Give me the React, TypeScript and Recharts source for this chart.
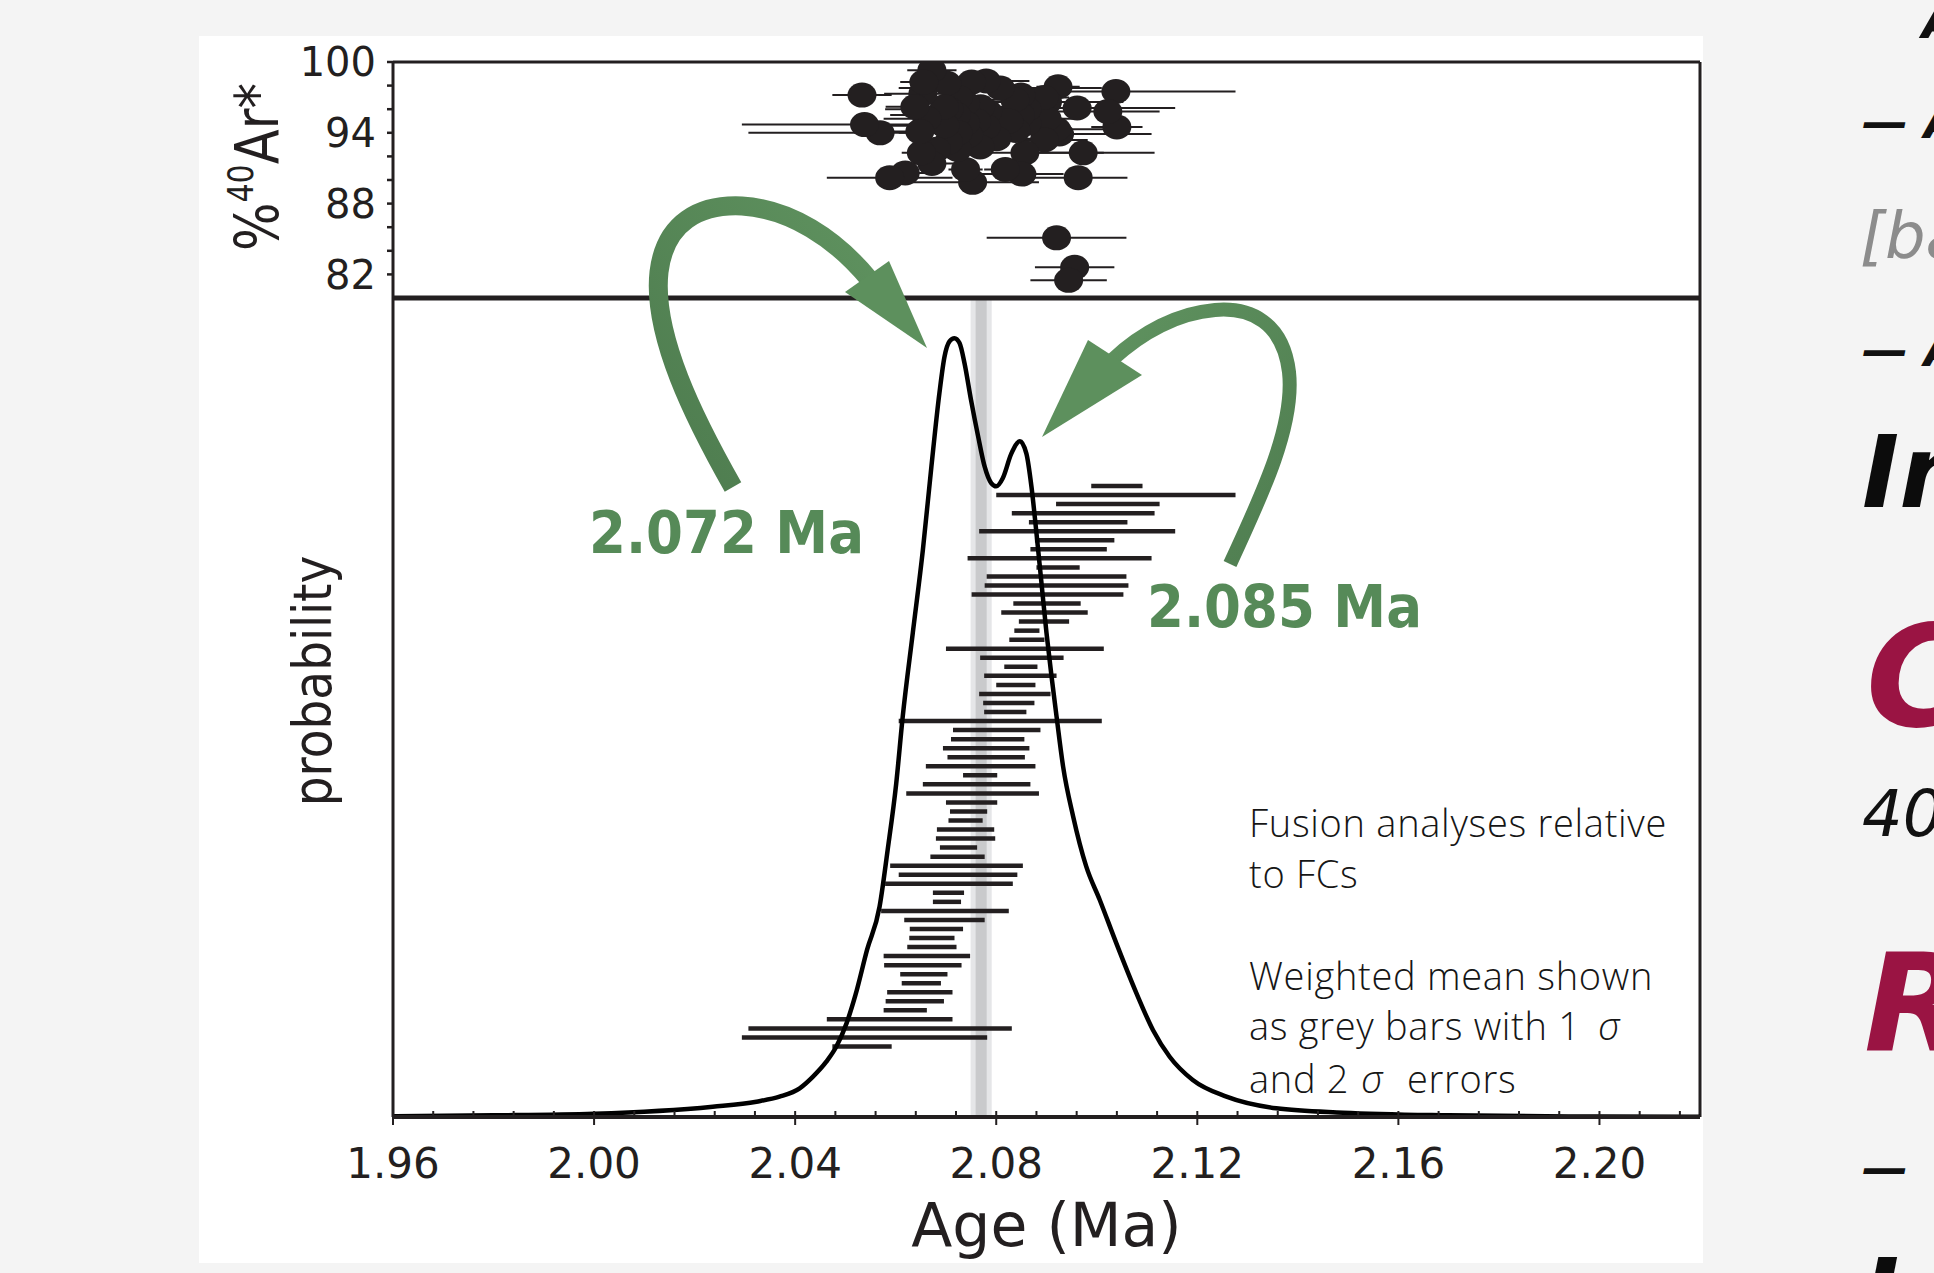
import React from "react";
import {
  ComposedChart,
  ScatterChart,
  Scatter,
  Line,
  XAxis,
  YAxis,
  ErrorBar,
  ReferenceArea,
  ReferenceLine,
} from "recharts";

const INK = "#231f20";
const GREEN = "#568a58";
const AXIS_FONT = "'DejaVu Sans', sans-serif";

// single-crystal fusion ages (Ma), ranked oldest first as in the lower panel
const ages = [
  2.104, 2.1038, 2.1022, 2.0973, 2.0963, 2.0961, 2.0956, 2.0944, 2.0926, 2.0923,
  2.092, 2.092, 2.0902, 2.0901, 2.0896, 2.0895, 2.0861, 2.0861, 2.0857, 2.0851,
  2.0849, 2.0848, 2.0839, 2.0837, 2.0825, 2.0818, 2.0808, 2.0801, 2.0783, 2.078,
  2.078, 2.0769, 2.0768, 2.0761, 2.0753, 2.0751, 2.0745, 2.0739, 2.0739, 2.0739,
  2.0725, 2.0723, 2.0721, 2.0724, 2.0706, 2.0705, 2.0702, 2.0698, 2.0697, 2.0681,
  2.0672, 2.0672, 2.0662, 2.0654, 2.0656, 2.0651, 2.0648, 2.0638, 2.0619, 2.0588,
  2.0569, 2.0538, 2.0533,
];

// 1 sigma errors (Ma)
const ageErrors = [
  0.0051, 0.0238, 0.0103, 0.0142, 0.0098, 0.0195, 0.0079, 0.0076, 0.0183, 0.0043,
  0.0139, 0.0143, 0.0151, 0.0067, 0.0086, 0.005, 0.0025, 0.0035, 0.0157, 0.0083,
  0.0033, 0.0072, 0.0039, 0.0071, 0.0051, 0.0042, 0.0202, 0.0087, 0.0073, 0.0086,
  0.0077, 0.0109, 0.0034, 0.0107, 0.0132, 0.0051, 0.0037, 0.0034, 0.0057, 0.0059,
  0.0037, 0.0054, 0.0132, 0.0118, 0.0127, 0.0031, 0.0028, 0.0127, 0.008, 0.0053,
  0.0045, 0.0049, 0.0086, 0.0077, 0.0047, 0.0039, 0.0065, 0.0058, 0.0043, 0.0125,
  0.0262, 0.0244, 0.0059,
];

// %40Ar* for each analysis
const radiogenic = [
  94.5, 97.5, 95.8, 92.3, 90.2, 96.1, 82.6, 81.5, 93.9, 97.9,
  85.1, 94.3, 96.6, 95.2, 93.4, 97.0, 94.8, 96.0, 92.3, 90.5,
  97.2, 95.5, 94.2, 96.8, 95.0, 90.9, 97.8, 93.5, 95.8, 98.4,
  94.5, 96.2, 92.8, 95.0, 89.8, 98.3, 93.8, 90.9, 96.5, 94.8,
  97.0, 92.6, 95.5, 94.0, 96.0, 93.2, 98.2, 94.6, 96.2, 92.6,
  91.4, 99.3, 95.2, 97.3, 98.3, 92.3, 94.1, 96.2, 90.6, 90.2,
  94.0, 94.7, 97.2,
];

// probability density curve, relative units
const curveAges = [
  1.96, 1.98, 2.0, 2.0236, 2.0323, 2.0369, 2.0409, 2.0435, 2.0462, 2.0482,
  2.0502, 2.052, 2.0543, 2.0568, 2.0584, 2.0601, 2.0614, 2.0634, 2.0654, 2.0671,
  2.0687, 2.0697, 2.0707, 2.0717, 2.0727, 2.0737, 2.075, 2.0764, 2.0777, 2.079,
  2.08, 2.0813, 2.083, 2.0847, 2.086, 2.087, 2.088, 2.089, 2.09, 2.091,
  2.092, 2.0933, 2.0953, 2.0979, 2.1006, 2.1039, 2.1079, 2.1112, 2.1145, 2.1191,
  2.1258, 2.1357, 2.149, 2.17, 2.2, 2.22,
];
const curveProb = [
  0.001, 0.002, 0.004, 0.0126, 0.0187, 0.0248, 0.035, 0.049, 0.0675, 0.086,
  0.114, 0.149, 0.204, 0.257, 0.326, 0.407, 0.489, 0.591, 0.692, 0.794,
  0.884, 0.928, 0.947, 0.951, 0.945, 0.92, 0.875, 0.831, 0.794, 0.774,
  0.77, 0.78, 0.81, 0.825, 0.81, 0.77, 0.713, 0.652, 0.591, 0.538,
  0.489, 0.428, 0.367, 0.306, 0.265, 0.212, 0.151, 0.106, 0.0736, 0.0452,
  0.0248, 0.0106, 0.0052, 0.002, 0.0005, 0.0003,
];

// weighted mean and its errors (grey bars)
const weightedMean = 2.077;
const meanErr1s = 0.0011;
const meanErr2s = 0.0021;

const AGE_DOMAIN = [1.96, 2.22];
const MAJOR_TICKS = [1.96, 2.0, 2.04, 2.08, 2.12, 2.16, 2.2];
const AGE_TICKS = Array.from({ length: 33 }, (_, i) => +(1.96 + i * 0.008).toFixed(3));
const AR_TICKS = [82, 84, 86, 88, 90, 92, 94, 96, 98, 100];
const AR_LABELS = [82, 88, 94, 100];

const rows = ages.map((age, i) => ({
  age,
  err: ageErrors[i],
  ar: radiogenic[i],
  rank: ages.length - 1 - i,
}));
const curve = curveAges.map((age, i) => ({ age, p: curveProb[i] }));

function ArTick(props: any) {
  const { x, y, payload } = props;
  if (!AR_LABELS.includes(payload.value)) return null;
  return (
    <text x={x} y={y} dy="0.36em" textAnchor="end" fontFamily={AXIS_FONT} fontSize={40} fill={INK}>
      {payload.value}
    </text>
  );
}

function ArTitle() {
  return (
    <text
      transform="translate(278,167) rotate(-90) scale(1,1.2)"
      textAnchor="middle"
      fontFamily={AXIS_FONT}
      fontSize={51}
      fill={INK}
    >
      %
      <tspan fontSize={30} dy={-21}>40</tspan>
      <tspan dy={21}>Ar*</tspan>
    </text>
  );
}

function AgeTick(props: any) {
  const { x, y, payload } = props;
  const major = MAJOR_TICKS.some((m) => Math.abs(m - payload.value) < 1e-6);
  return (
    <g>
      <line x1={x} x2={x} y1={y - 6} y2={major ? y + 8 : y} stroke={INK} strokeWidth={2} />
      {major && (
        <text x={x} y={y + 61} textAnchor="middle" fontFamily={AXIS_FONT} fontSize={42} fill={INK}>
          {payload.value.toFixed(2)}
        </text>
      )}
    </g>
  );
}

function AgeTitle(props: any) {
  const { viewBox } = props;
  return (
    <text
      x={viewBox.x + viewBox.width / 2}
      y={1246}
      textAnchor="middle"
      fontFamily={AXIS_FONT}
      fontSize={60}
      fill={INK}
    >
      Age (Ma)
    </text>
  );
}

function ProbTitle() {
  return (
    <text
      transform="translate(331,681) rotate(-90) scale(1,1.12)"
      textAnchor="middle"
      fontFamily={AXIS_FONT}
      fontSize={47}
      fill={INK}
    >
      probability
    </text>
  );
}

function Overlay() {
  const note = {
    fontFamily: "'Open Sans', sans-serif",
    fontWeight: 300,
    fontSize: 38,
    letterSpacing: 0.7,
    fill: "#161616",
  };
  const side = { fontFamily: AXIS_FONT, fontStyle: "italic" as const, fontWeight: 700 };
  return (
    <svg
      width={1934}
      height={1273}
      style={{ position: "absolute", left: 0, top: 0, pointerEvents: "none" }}
    >
      <defs>
        <linearGradient id="arrowL" x1="0" y1="1" x2="1" y2="0">
          <stop offset="0" stopColor="#4d7b4e" />
          <stop offset="1" stopColor="#5f925f" />
        </linearGradient>
        <linearGradient id="arrowR" x1="1" y1="1" x2="0" y2="0">
          <stop offset="0" stopColor="#4f7d50" />
          <stop offset="1" stopColor="#5f925f" />
        </linearGradient>
      </defs>

      {/* arrow to the 2.072 Ma peak */}
      <path
        d="M 733 487 C 695 420, 652 335, 659 272 C 665 222, 700 204, 742 206 C 790 209, 835 238, 869 279"
        fill="none"
        stroke="url(#arrowL)"
        strokeWidth={19}
      />
      <polygon points="845,292 889,261 927,348" fill="#5d905d" />

      {/* arrow to the 2.085 Ma peak */}
      <path
        d="M 1230 564 C 1262 495, 1295 425, 1289 372 C 1283 322, 1250 307, 1215 310 C 1178 313, 1142 332, 1112 360"
        fill="none"
        stroke="url(#arrowR)"
        strokeWidth={14}
      />
      <polygon points="1088,340 1142,375 1042,437" fill="#5d905d" />

      <text x={589} y={553} fontFamily={AXIS_FONT} fontWeight={700} fontSize={58} fill={GREEN}
        textLength={275} lengthAdjust="spacingAndGlyphs">
        2.072 Ma
      </text>
      <text x={1147} y={627} fontFamily={AXIS_FONT} fontWeight={700} fontSize={58} fill={GREEN}
        textLength={275} lengthAdjust="spacingAndGlyphs">
        2.085 Ma
      </text>

      <text x={1249} y={837} {...note}>Fusion analyses relative</text>
      <text x={1249} y={888} {...note}>to FCs</text>
      <text x={1249} y={990} {...note}>Weighted mean shown</text>
      <text x={1249} y={1040} {...note}>
        as grey bars with 1<tspan x={1598} fontStyle="italic">σ</tspan>
      </text>
      <text x={1249} y={1093} {...note}>
        and 2<tspan x={1361} fontStyle="italic">σ</tspan>
        <tspan x={1407}>errors</tspan>
      </text>

      {/* clipped slide text at the right edge */}
      <text x={1922} y={38} fontSize={50} fill="#111" {...side}>A</text>
      <text x={1862} y={138} fontSize={46} fill="#111" {...side}>— A</text>
      <text x={1860} y={258} fontSize={64} fill="#8c8c8c" fontFamily={AXIS_FONT} fontStyle="italic">[ba</text>
      <text x={1862} y={366} fontSize={46} fill="#111" {...side}>— A</text>
      <text x={1862} y={507} fontSize={100} fill="#0c0c0c" {...side}>In</text>
      <text x={1866} y={726} fontSize={140} fill="#9a1443" {...side}>C</text>
      <text x={1862} y={836} fontSize={64} fill="#111" fontFamily={AXIS_FONT} fontStyle="italic">40</text>
      <text x={1864} y={1050} fontSize={135} fill="#9a1443" {...side}>R</text>
      <text x={1862} y={1184} fontSize={46} fill="#111" {...side}>—</text>
      <text x={1862} y={1330} fontSize={100} fill="#0c0c0c" {...side}>In</text>
    </svg>
  );
}

export default function App() {
  return (
    <div
      style={{
        position: "fixed",
        left: 0,
        top: 0,
        width: 1934,
        height: 1273,
        background: "#f4f4f4",
        overflow: "hidden",
      }}
    >
      <div style={{ position: "absolute", left: 199, top: 36, width: 1504, height: 1227, background: "#fff" }} />

      <div style={{ position: "absolute", left: 0, top: 0 }}>
        <ComposedChart
          width={1934}
          height={1273}
          margin={{ top: 298, right: 234, bottom: 16, left: 313 }}
        >
          <XAxis
            type="number"
            dataKey="age"
            domain={AGE_DOMAIN}
            allowDataOverflow
            ticks={AGE_TICKS}
            interval={0}
            tickLine={false}
            tickSize={0}
            tickMargin={0}
            tick={<AgeTick />}
            axisLine={{ stroke: INK, strokeWidth: 4 }}
            height={140}
            label={<AgeTitle />}
          />
          <YAxis
            yAxisId="p"
            type="number"
            domain={[0, 1]}
            allowDataOverflow
            tick={false}
            tickLine={false}
            axisLine={{ stroke: INK, strokeWidth: 3 }}
            width={80}
            label={<ProbTitle />}
          />
          <YAxis yAxisId="rank" type="number" dataKey="rank" domain={[-7.8, 82.8]} allowDataOverflow hide />
          <ReferenceArea
            yAxisId="p"
            x1={weightedMean - meanErr2s}
            x2={weightedMean + meanErr2s}
            fill="#e5e6e8"
            fillOpacity={1}
            stroke="none"
          />
          <ReferenceArea
            yAxisId="p"
            x1={weightedMean - meanErr1s}
            x2={weightedMean + meanErr1s}
            fill="#c9cacc"
            fillOpacity={1}
            stroke="none"
          />
          <ReferenceLine yAxisId="p" y={1} stroke={INK} strokeWidth={5} />
          <ReferenceLine yAxisId="p" x={2.22} stroke={INK} strokeWidth={3} />
          <Scatter yAxisId="rank" data={rows} shape={() => <g />} isAnimationActive={false}>
            <ErrorBar dataKey="err" direction="x" width={0} stroke={INK} strokeWidth={4.5} />
          </Scatter>
          <Line
            yAxisId="p"
            data={curve}
            dataKey="p"
            type="monotone"
            dot={false}
            stroke="#000"
            strokeWidth={4.5}
            isAnimationActive={false}
          />
        </ComposedChart>
      </div>

      <div style={{ position: "absolute", left: 0, top: 0 }}>
        <ScatterChart width={1934} height={320} margin={{ top: 62, right: 234, bottom: 22, left: 313 }}>
          <XAxis type="number" dataKey="age" domain={AGE_DOMAIN} allowDataOverflow hide />
          <YAxis
            type="number"
            dataKey="ar"
            domain={[80, 100]}
            allowDataOverflow
            ticks={AR_TICKS}
            interval={0}
            width={80}
            axisLine={{ stroke: INK, strokeWidth: 3 }}
            tickLine={{ stroke: INK, strokeWidth: 2.5 }}
            tickSize={6}
            tickMargin={11}
            tick={<ArTick />}
            label={<ArTitle />}
          />
          <ReferenceLine y={100} stroke={INK} strokeWidth={3} />
          <ReferenceLine x={2.22} stroke={INK} strokeWidth={3} />
          <Scatter
            data={rows}
            isAnimationActive={false}
            shape={(p: any) => <ellipse cx={p.cx} cy={p.cy} rx={14.5} ry={12.5} fill={INK} />}
          >
            <ErrorBar dataKey="err" direction="x" width={0} stroke={INK} strokeWidth={2} />
          </Scatter>
        </ScatterChart>
      </div>

      <Overlay />
    </div>
  );
}
